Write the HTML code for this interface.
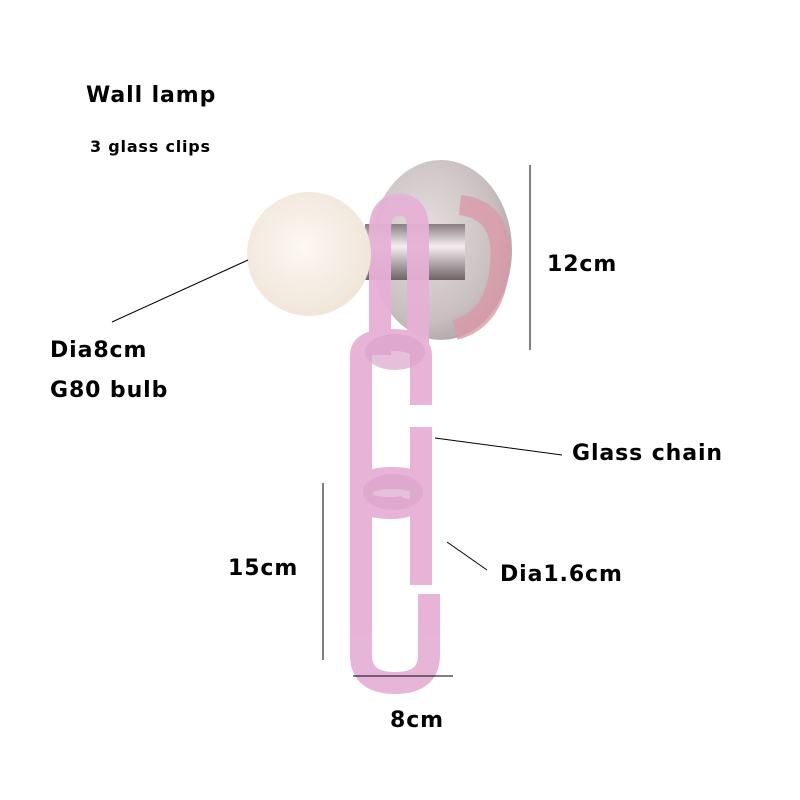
<!DOCTYPE html>
<html><head><meta charset="utf-8"><style>
html,body{margin:0;padding:0;background:#fff;}
svg{display:block}
text{font-family:"DejaVu Sans","Liberation Sans",sans-serif;font-weight:bold;fill:#000}
.b{font-size:22px;letter-spacing:0.9px}
</style></head><body>
<svg width="800" height="800" viewBox="0 0 800 800" xmlns="http://www.w3.org/2000/svg">
<defs>
<radialGradient id="plate" cx="0.4" cy="0.4" r="0.7"><stop offset="0" stop-color="#e6dede"/><stop offset="0.7" stop-color="#c9bfc0"/><stop offset="1" stop-color="#a89c9e"/></radialGradient>
<radialGradient id="bulb" cx="0.45" cy="0.45" r="0.6"><stop offset="0" stop-color="#fdf8f2"/><stop offset="1" stop-color="#efe4d8"/></radialGradient>
<linearGradient id="cyl" x1="0" y1="0" x2="0" y2="1"><stop offset="0" stop-color="#8a7c80"/><stop offset="0.4" stop-color="#f4eef0"/><stop offset="1" stop-color="#6f6266"/></linearGradient>
</defs>
<ellipse cx="441" cy="250" rx="71" ry="90" fill="url(#plate)"/>
<path d="M460 205 Q505 210 500 265 Q495 320 455 330" fill="none" stroke="#d99aa8" stroke-width="20" opacity="0.8"/>
<rect x="365" y="224" width="100" height="56" fill="url(#cyl)"/>
<g fill="none" stroke="#e6b1d6" stroke-linejoin="round" stroke-width="22" opacity="0.95">
<path d="M380 355 L380 230 Q380 205 400 205 Q418 205 418 230 L418 350"/>
<path d="M361 415 L361 355 Q361 340 391 340 Q421 340 421 355 L421 405 M421 427 L421 500 M361 415 L361 495 Q361 508 391 508 Q410 508 412 500"/>
<path d="M421 585 L421 490 Q421 478 391 478 Q361 478 361 495 L361 655 Q361 683 395 683 Q429 683 429 655 L429 594"/>
</g>
<ellipse cx="395" cy="352" rx="30" ry="18" fill="#dca4cc" opacity="0.7"/>
<ellipse cx="393" cy="492" rx="30" ry="18" fill="#dca4cc" opacity="0.7"/>
<circle cx="309" cy="254" r="62" fill="url(#bulb)"/>
<g stroke="#000" stroke-width="1">
<line x1="530" y1="165" x2="530" y2="350"/>
<line x1="248" y1="260" x2="112" y2="322"/>
<line x1="435" y1="438" x2="562" y2="455"/>
<line x1="447" y1="542" x2="487" y2="570"/>
<line x1="323" y1="483" x2="323" y2="660"/>
<line x1="353" y1="676" x2="453" y2="676"/>
</g>
<text x="86" y="102" class="b">Wall lamp</text>
<text x="90" y="152" font-size="16" letter-spacing="0.8">3 glass clips</text>
<text x="547" y="271" class="b">12cm</text>
<text x="50" y="357" class="b">Dia8cm</text>
<text x="50" y="397" class="b">G80 bulb</text>
<text x="572" y="460" class="b">Glass chain</text>
<text x="228" y="575" class="b">15cm</text>
<text x="500" y="581" class="b">Dia1.6cm</text>
<text x="390" y="727" class="b">8cm</text>
</svg>
</body></html>
